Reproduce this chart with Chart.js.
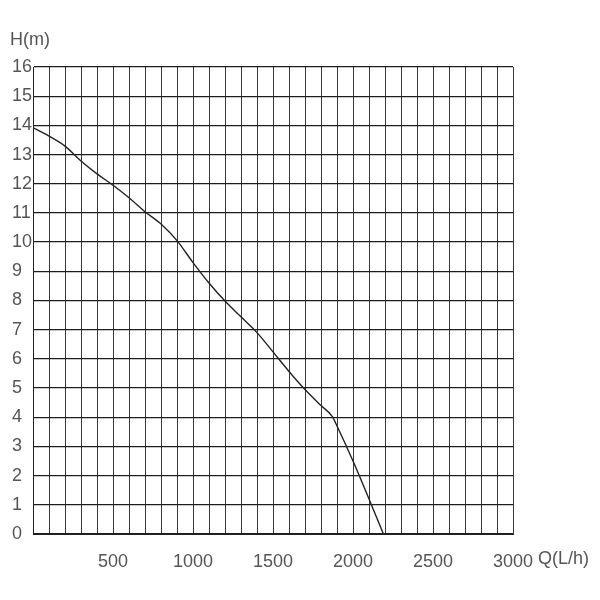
<!DOCTYPE html>
<html>
<head>
<meta charset="utf-8">
<script src="https://cdn.jsdelivr.net/npm/chart.js@4/dist/chart.umd.min.js"></script>
<style>
  html, body { margin: 0; padding: 0; background: #fff; }
  #wrap { width: 600px; height: 600px; }
</style>
</head>
<body>
<div id="wrap"><canvas id="pomp"></canvas></div>
<script>
// pump curve: flow Q (L/h) vs head H (m)
const flow = [0, 100, 200, 300, 400, 500, 600, 700, 800, 900, 1000, 1100, 1200, 1300, 1400, 1500, 1600, 1700, 1800, 1870, 1900, 2000, 2100, 2190];
const head = [13.92, 13.63, 13.29, 12.78, 12.34, 11.95, 11.52, 11.04, 10.62, 10.05, 9.3, 8.6, 7.98, 7.44, 6.9, 6.24, 5.57, 4.95, 4.4, 4.03, 3.7, 2.5, 1.2, 0];
const xLabels = [500, 1000, 1500, 2000, 2500, 3000];
const xTitle = "Q(L/h)";
const yTitle = "H(m)";

const fontFam = "'Liberation Sans', sans-serif";
const textKleur = "#555";

const titels = {
  id: "titels",
  afterDraw(chart) {
    const ctx = chart.ctx;
    const area = chart.chartArea;
    ctx.save();
    ctx.font = "18px " + fontFam;
    ctx.fillStyle = textKleur;
    ctx.textBaseline = "middle";
    ctx.textAlign = "left";
    ctx.fillText(yTitle, 10, 40);
    ctx.fillText(xTitle, area.right + 25, area.bottom + 25);
    ctx.restore();
  },
};

const tekenCurve = function () {
  const el = document.querySelector("#pomp");
  new Chart(el, {
    type: "line",
    data: {
      datasets: [
        {
          data: flow.map((q, i) => ({ x: q, y: head[i] })),
          borderColor: "#222",
          borderWidth: 1.4,
          pointRadius: 0,
          cubicInterpolationMode: "monotone",
          fill: false,
        },
      ],
    },
    options: {
      responsive: true,
      maintainAspectRatio: false,
      animation: false,
      layout: { padding: { left: 12, right: 87, top: 67, bottom: 10 } },
      plugins: {
        legend: { display: false },
        tooltip: { enabled: false },
      },
      scales: {
        x: {
          type: "linear",
          min: 0,
          max: 3000,
          border: { display: true, color: "#222", width: 1 },
          grid: { color: "#3a3a3a", lineWidth: 1, drawTicks: false },
          ticks: {
            stepSize: 100,
            autoSkip: false,
            maxRotation: 0,
            padding: 17,
            color: textKleur,
            font: { family: fontFam, size: 18 },
            callback: (v) => (xLabels.includes(v) ? String(v) : ""),
          },
          afterFit: (s) => { s.height = 56; },
        },
        y: {
          min: 0,
          max: 16,
          border: { display: true, color: "#222", width: 1 },
          grid: { color: "#1e1e1e", lineWidth: 1.3, drawTicks: false },
          ticks: {
            stepSize: 1,
            crossAlign: "far",
            color: textKleur,
            font: { family: fontFam, size: 18 },
          },
          afterFit: (s) => { s.width = 21; },
        },
      },
    },
    plugins: [titels],
  });
};

const init = function () {
  tekenCurve();
};

document.addEventListener("DOMContentLoaded", init);
</script>
</body>
</html>
